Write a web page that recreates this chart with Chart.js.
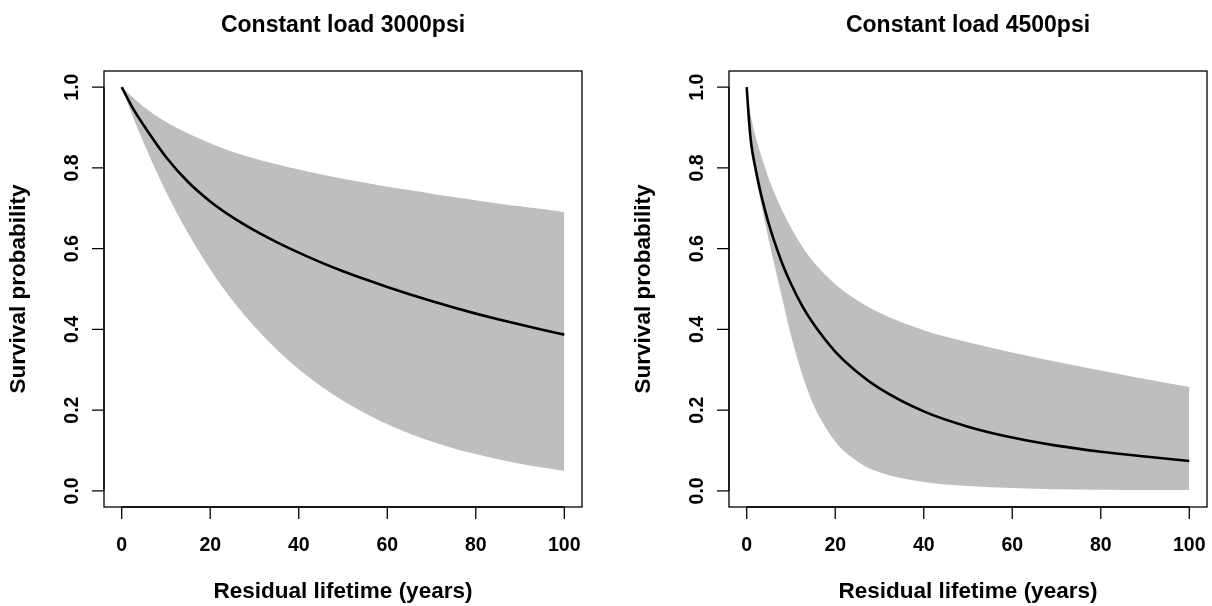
<!DOCTYPE html>
<html>
<head>
<meta charset="utf-8">
<script src="https://cdn.jsdelivr.net/npm/chart.js@4.4.1/dist/chart.umd.min.js"></script>
<style>
  html, body { margin: 0; padding: 0; background: #fff; }
  #wrap { position: relative; width: 1212px; height: 606px; }
  canvas { position: absolute; top: 0; }
</style>
</head>
<body>
<div id="wrap">
  <canvas id="c1" width="606" height="606" style="left:0"></canvas>
  <canvas id="c2" width="606" height="606" style="left:606px"></canvas>
</div>
<script>
// ---- data ----
const titleLeft = "Constant load 3000psi";
const titleRight = "Constant load 4500psi";
const xAxisTitle = "Residual lifetime (years)";
const yAxisTitle = "Survival probability";

const xTicks = [0, 20, 40, 60, 80, 100];
const xTickLabels = ["0", "20", "40", "60", "80", "100"];
const yTicks = [0, 0.2, 0.4, 0.6, 0.8, 1.0];
const yTickLabels = ["0.0", "0.2", "0.4", "0.6", "0.8", "1.0"];

// Left panel: 3000 psi
const xLeft     = [0, 2.5, 5, 10, 15, 20, 25, 30, 35, 40, 45, 50, 55, 60, 65, 70, 75, 80, 85, 90, 95, 100];
const meanLeft  = [1.0, 0.948, 0.905, 0.827, 0.765, 0.717, 0.678, 0.645, 0.616, 0.590, 0.566, 0.544, 0.524, 0.505, 0.487, 0.470, 0.454, 0.439, 0.425, 0.412, 0.399, 0.387];
const upperLeft = [1.0, 0.975, 0.951, 0.914, 0.885, 0.861, 0.840, 0.823, 0.809, 0.796, 0.784, 0.773, 0.763, 0.753, 0.745, 0.736, 0.728, 0.720, 0.712, 0.705, 0.698, 0.690];
const lowerLeft = [1.0, 0.928, 0.861, 0.741, 0.638, 0.549, 0.472, 0.407, 0.350, 0.301, 0.259, 0.223, 0.192, 0.165, 0.142, 0.122, 0.105, 0.091, 0.078, 0.067, 0.058, 0.050];

// Right panel: 4500 psi
const xRight     = [0, 0.5, 1, 2, 3, 4, 5, 6, 8, 10, 12.5, 15, 20, 25, 30, 40, 50, 60, 70, 80, 90, 100];
const meanRight  = [1.0, 0.92, 0.861, 0.798, 0.746, 0.701, 0.661, 0.626, 0.564, 0.513, 0.459, 0.415, 0.345, 0.294, 0.254, 0.197, 0.159, 0.132, 0.112, 0.097, 0.085, 0.074];
const upperRight = [1.0, 0.955, 0.925, 0.878, 0.84, 0.805, 0.773, 0.745, 0.695, 0.652, 0.606, 0.568, 0.512, 0.472, 0.441, 0.398, 0.368, 0.343, 0.32, 0.298, 0.277, 0.257];
const lowerRight = [1.0, 0.90, 0.845, 0.78, 0.725, 0.672, 0.62, 0.572, 0.478, 0.385, 0.29, 0.215, 0.122, 0.073, 0.046, 0.022, 0.012, 0.007, 0.004, 0.003, 0.002, 0.002];

// ---- helpers ----
function pts(xs, ys) { return xs.map((x, i) => ({ x: x, y: ys[i] })); }

const FONT = '"Liberation Sans", Arial, Helvetica, sans-serif';

const rAxesPlugin = {
  id: 'rAxes',
  afterDraw(chart, args, opts) {
    const ctx = chart.ctx;
    const a = chart.chartArea;
    const xs = chart.scales.x, ys = chart.scales.y;
    ctx.save();
    ctx.strokeStyle = '#000';
    ctx.fillStyle = '#000';
    ctx.lineWidth = 1.3;
    // box
    ctx.strokeRect(a.left, a.top, a.right - a.left, a.bottom - a.top);
    // x axis
    ctx.beginPath();
    ctx.moveTo(xs.getPixelForValue(xTicks[0]), a.bottom);
    ctx.lineTo(xs.getPixelForValue(xTicks[xTicks.length - 1]), a.bottom);
    xTicks.forEach(v => {
      const px = xs.getPixelForValue(v);
      ctx.moveTo(px, a.bottom);
      ctx.lineTo(px, a.bottom + 12);
    });
    // y axis
    ctx.moveTo(a.left, ys.getPixelForValue(yTicks[0]));
    ctx.lineTo(a.left, ys.getPixelForValue(yTicks[yTicks.length - 1]));
    yTicks.forEach(v => {
      const py = ys.getPixelForValue(v);
      ctx.moveTo(a.left, py);
      ctx.lineTo(a.left - 12, py);
    });
    ctx.stroke();

    // x tick labels
    ctx.font = 'bold 19.5px ' + FONT;
    ctx.textAlign = 'center';
    ctx.textBaseline = 'alphabetic';
    xTicks.forEach((v, i) => {
      ctx.fillText(xTickLabels[i], xs.getPixelForValue(v), a.bottom + 44);
    });
    // y tick labels (rotated)
    yTicks.forEach((v, i) => {
      ctx.save();
      ctx.translate(a.left - 26, ys.getPixelForValue(v));
      ctx.rotate(-Math.PI / 2);
      ctx.fillText(yTickLabels[i], 0, 0);
      ctx.restore();
    });
    // axis titles
    ctx.font = 'bold 22.5px ' + FONT;
    ctx.fillText(xAxisTitle, (a.left + a.right) / 2, a.bottom + 91);
    ctx.save();
    ctx.translate(a.left - 79, (a.top + a.bottom) / 2);
    ctx.rotate(-Math.PI / 2);
    ctx.fillText(yAxisTitle, 0, 0);
    ctx.restore();
    // main title
    ctx.font = 'bold 23px ' + FONT;
    ctx.fillText(opts.title, (a.left + a.right) / 2, a.top - 39);
    ctx.restore();
  }
};

function makeChart(id, xs, mean, upper, lower, title, pad) {
  return new Chart(document.getElementById(id), {
    type: 'line',
    data: {
      datasets: [
        {
          label: 'mean', data: pts(xs, mean), borderColor: '#000', borderWidth: 2.6,
          pointRadius: 0, fill: false, cubicInterpolationMode: 'monotone', order: 0,
          borderCapStyle: 'butt'
        },
        {
          label: 'upper', data: pts(xs, upper), borderWidth: 0, borderColor: 'rgba(0,0,0,0)',
          backgroundColor: '#BEBEBE', pointRadius: 0, fill: '+1',
          cubicInterpolationMode: 'monotone', order: 1
        },
        {
          label: 'lower', data: pts(xs, lower), borderWidth: 0, borderColor: 'rgba(0,0,0,0)',
          backgroundColor: '#BEBEBE', pointRadius: 0, fill: false,
          cubicInterpolationMode: 'monotone', order: 1
        }
      ]
    },
    options: {
      responsive: false,
      animation: false,
      events: [],
      layout: { padding: pad },
      scales: {
        x: { type: 'linear', min: -4, max: 104, display: false },
        y: { type: 'linear', min: -0.04, max: 1.04, display: false }
      },
      plugins: {
        legend: { display: false },
        tooltip: { enabled: false },
        title: { display: false },
        rAxes: { title: title },
        filler: { propagate: false }
      }
    },
    plugins: [rAxesPlugin]
  });
}

makeChart('c1', xLeft, meanLeft, upperLeft, lowerLeft, titleLeft,
  { left: 104, right: 24, top: 71, bottom: 99 });
makeChart('c2', xRight, meanRight, upperRight, lowerRight, titleRight,
  { left: 123, right: 5, top: 71, bottom: 99 });
</script>
</body>
</html>
